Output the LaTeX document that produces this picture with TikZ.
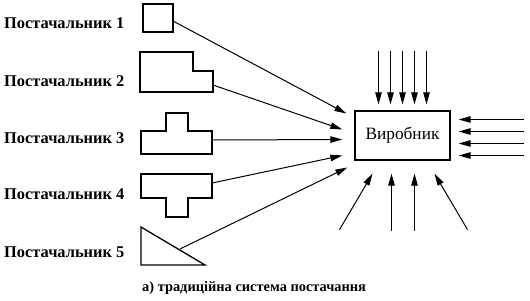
\documentclass[tikz,border=0pt]{standalone}
\usepackage{fontspec}
\setmainfont{Liberation Serif}
\usetikzlibrary{arrows.meta}

\tikzset{
  supplier/.style={anchor=base west, inner sep=0pt, font=\bfseries\fontsize{16.4}{18}\selectfont},
  part/.style={line width=1.3pt},
  arr/.style={-{Triangle[length=12pt,width=6.5pt]}, line width=1pt},
}

\begin{document}
\begin{tikzpicture}[x=1pt,y=-1pt]
\useasboundingbox (0,0) rectangle (530,300);

\node[supplier] (p1) at (4,28) {Постачальник 1};
\node[supplier] (p2) at (4,86) {Постачальник 2};
\node[supplier] (p3) at (4,143) {Постачальник 3};
\node[supplier] (p4) at (4,199) {Постачальник 4};
\node[supplier] (p5) at (4,257) {Постачальник 5};

\draw[part] (143,4) rectangle (173,32);
\draw[part] (140,52) -- (193,52) -- (193,71) -- (213,71) -- (213,92) -- (140,92) -- cycle;
\draw[part] (141,154) -- (141,131) -- (166,131) -- (166,113) -- (188,113)
  -- (188,131) -- (212,131) -- (212,154) -- cycle;
\draw[part] (141,174) -- (212,174) -- (212,198) -- (188,198) -- (188,217)
  -- (166,217) -- (166,198) -- (141,198) -- cycle;
\draw[part] (141,227) -- (141,265) -- (205,265) -- cycle;

\coordinate (s1) at (173,21);
\coordinate (s2) at (213,85);
\coordinate (s3) at (212,140);
\coordinate (s4) at (212,183);
\coordinate (s5) at (180,249);

\node[draw, part, minimum width=95pt, minimum height=49pt,
  font=\fontsize{17.3}{19}\selectfont] (vyr) at (402.5,135.5) {Виробник};

\draw[arr] (s1) -- ([xshift=-8pt,yshift=22pt]vyr.west);
\draw[arr] (s2) -- ([xshift=-12pt,yshift=6pt]vyr.west);
\draw[arr] (s3) -- ([xshift=-12pt,yshift=-4pt]vyr.west);
\draw[arr] (s4) -- ([xshift=-12pt,yshift=-20pt]vyr.west);
\draw[arr] (s5) -- ([xshift=-7pt,yshift=-32pt]vyr.west);

\foreach \dx in {-24,-12,0,12,24}
  \draw[arr] ([xshift=\dx pt,yshift=59pt]vyr.north) -- ([xshift=\dx pt,yshift=6pt]vyr.north);

\foreach \dy in {16,4,-8,-20}
  \draw[arr] ([xshift=73pt,yshift=\dy pt]vyr.east) -- ([xshift=8pt,yshift=\dy pt]vyr.east);

\draw[arr] ([xshift=-63pt,yshift=-69pt]vyr.south) -- ([xshift=-30pt,yshift=-13pt]vyr.south);
\draw[arr] ([xshift=-11pt,yshift=-70pt]vyr.south) -- ([xshift=-11pt,yshift=-13pt]vyr.south);
\draw[arr] ([xshift=12pt,yshift=-70pt]vyr.south) -- ([xshift=12pt,yshift=-13pt]vyr.south);
\draw[arr] ([xshift=65pt,yshift=-69pt]vyr.south) -- ([xshift=32pt,yshift=-13pt]vyr.south);

\node[anchor=base west, inner sep=0pt, font=\bfseries\fontsize{14.4}{16}\selectfont] (cap)
  at (142,291) {а) традиційна система постачання};
\end{tikzpicture}
\end{document}
